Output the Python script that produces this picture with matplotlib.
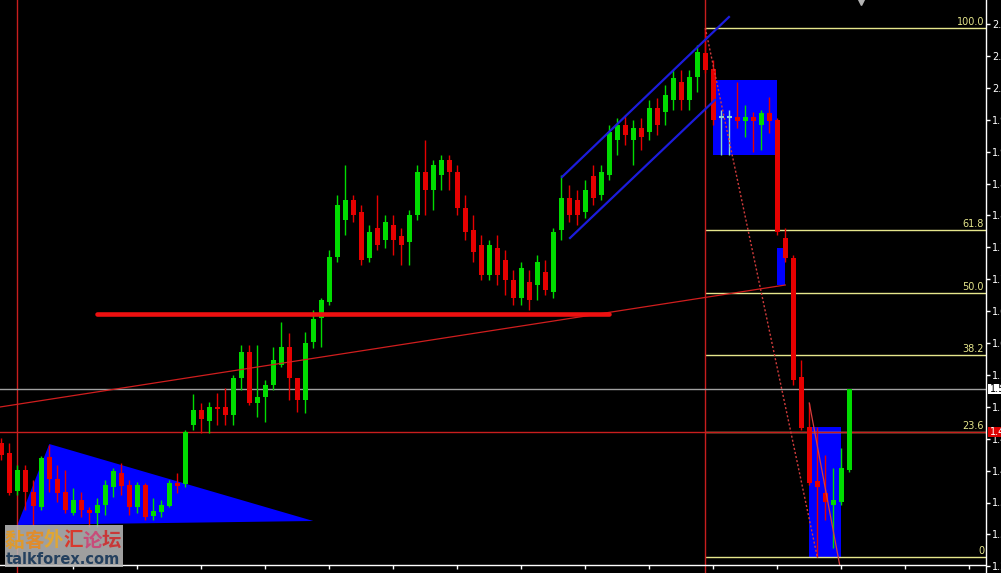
import matplotlib
matplotlib.use('Agg')
import matplotlib.pyplot as plt
from matplotlib.patches import Rectangle, Polygon

# ---------------- data (price units) ----------------
opens = [1.4496, 1.4336, 1.3728, 1.4064, 1.3712, 1.3472, 1.4272, 1.3920, 1.3712, 1.3376,
         1.3584, 1.3424, 1.3376, 1.3504, 1.3792, 1.4016, 1.3824, 1.3472, 1.3824, 1.3328,
         1.3392, 1.3488, 1.3856, 1.3840, 1.4784, 1.5024, 1.4848, 1.5072, 1.5072, 1.4944,
         1.5536, 1.5952, 1.5136, 1.5232, 1.5424, 1.5744, 1.6032, 1.5536, 1.5184, 1.6112,
         1.6496, 1.6752, 1.7472, 1.8064, 1.8384, 1.8192, 1.7456, 1.7936, 1.7744, 1.7984,
         1.7808, 1.7712, 1.8144, 1.8832, 1.8544, 1.8784, 1.9024, 1.8832, 1.8256, 1.7904,
         1.7664, 1.7184, 1.7616, 1.7424, 1.7104, 1.6816, 1.7072, 1.7024, 1.7232, 1.6912,
         1.7904, 1.8416, 1.8384, 1.8192, 1.8768, 1.8464, 1.8784, 1.9344, 1.9584, 1.9344,
         1.9536, 1.9472, 1.9856, 1.9792, 1.9984, 2.0272, 1.9984, 2.0352, 2.0736, 2.0480,
         1.9712, 1.9712, 1.9712, 1.9648, 1.9712, 1.9584, 1.9776, 1.9664, 1.7776, 1.7456,
         1.5552, 1.4752, 1.3888, 1.3696, 1.3504, 1.3552, 1.4064]
highs = [1.4576, 1.4496, 1.4144, 1.4144, 1.3904, 1.4288, 1.4464, 1.4144, 1.4064, 1.3776,
         1.3712, 1.3472, 1.3616, 1.3904, 1.4096, 1.4176, 1.3904, 1.3872, 1.3856, 1.3616,
         1.3584, 1.3904, 1.4016, 1.4704, 1.5280, 1.5136, 1.5152, 1.5296, 1.5376, 1.5584,
         1.6064, 1.6064, 1.6064, 1.5504, 1.6032, 1.6432, 1.6256, 1.5536, 1.6272, 1.6624,
         1.6816, 1.7584, 1.8464, 1.8944, 1.8464, 1.8304, 1.7984, 1.8464, 1.8144, 1.8144,
         1.7936, 1.8224, 1.8944, 1.9344, 1.9024, 1.9104, 1.9104, 1.8944, 1.8464, 1.8144,
         1.7824, 1.7744, 1.7824, 1.7584, 1.7264, 1.7392, 1.7264, 1.7504, 1.7424, 1.7936,
         1.8784, 1.8624, 1.8544, 1.8704, 1.8944, 1.8944, 1.9584, 1.9696, 1.9744, 1.9664,
         1.9696, 1.9984, 2.0016, 2.0224, 2.0464, 2.0464, 2.0464, 2.0864, 2.1136, 2.0624,
         1.9824, 1.9824, 2.0272, 1.9904, 1.9792, 1.9824, 2.0032, 1.9696, 1.7936, 1.7504,
         1.5824, 1.5136, 1.4752, 1.4304, 1.4096, 1.4416, 1.5360]
lows = [1.4224, 1.3664, 1.3664, 1.3424, 1.3184, 1.3424, 1.3712, 1.3552, 1.3376, 1.3344,
        1.3312, 1.3152, 1.3152, 1.3344, 1.3632, 1.3664, 1.3344, 1.3376, 1.3264, 1.3264,
        1.3312, 1.3472, 1.3696, 1.3792, 1.4704, 1.4656, 1.4656, 1.4784, 1.4784, 1.4784,
        1.5344, 1.5104, 1.4912, 1.4832, 1.5344, 1.5712, 1.5184, 1.4992, 1.4976, 1.6016,
        1.6032, 1.6704, 1.7392, 1.7824, 1.8032, 1.7344, 1.7392, 1.7584, 1.7616, 1.7504,
        1.7344, 1.7344, 1.8064, 1.8144, 1.8224, 1.8544, 1.8544, 1.8144, 1.7744, 1.7392,
        1.7104, 1.7104, 1.7024, 1.6864, 1.6704, 1.6704, 1.6624, 1.6784, 1.6864, 1.6816,
        1.7744, 1.8032, 1.7984, 1.8096, 1.8304, 1.8384, 1.8704, 1.9104, 1.9264, 1.8944,
        1.9184, 1.9344, 1.9424, 1.9584, 1.9824, 1.9824, 1.9824, 2.0112, 2.0416, 1.9584,
        1.9104, 1.9104, 1.9536, 1.9392, 1.9152, 1.9184, 1.9456, 1.7824, 1.7392, 1.5424,
        1.4704, 1.3824, 1.2672, 1.3264, 1.2816, 1.3504, 1.4032]
closes = [1.4304, 1.3696, 1.4064, 1.3712, 1.3488, 1.4256, 1.3920, 1.3696, 1.3424, 1.3584,
          1.3424, 1.3376, 1.3504, 1.3824, 1.4048, 1.3808, 1.3472, 1.3824, 1.3312, 1.3408,
          1.3504, 1.3856, 1.3808, 1.4672, 1.5024, 1.4880, 1.5072, 1.5040, 1.4944, 1.5536,
          1.5952, 1.5136, 1.5232, 1.5424, 1.5824, 1.6032, 1.5536, 1.5184, 1.6096, 1.6480,
          1.6784, 1.7472, 1.8304, 1.8384, 1.8144, 1.7424, 1.7872, 1.7664, 1.8032, 1.7744,
          1.7664, 1.8144, 1.8832, 1.8544, 1.8944, 1.9024, 1.8832, 1.8256, 1.7872, 1.7552,
          1.7184, 1.7664, 1.7184, 1.7104, 1.6816, 1.7296, 1.6784, 1.7392, 1.6944, 1.7872,
          1.8416, 1.8144, 1.8144, 1.8544, 1.8416, 1.8832, 1.9472, 1.9584, 1.9424, 1.9536,
          1.9392, 1.9856, 1.9584, 2.0064, 2.0336, 1.9984, 2.0352, 2.0752, 2.0464, 1.9664,
          1.9712, 1.9712, 1.9648, 1.9712, 1.9648, 1.9776, 1.9648, 1.7872, 1.7456, 1.5504,
          1.4736, 1.3856, 1.3792, 1.3552, 1.3584, 1.4096, 1.5360]

price_ticks = [2.1200, 2.0690, 2.0179, 1.9669, 1.9158, 1.8648, 1.8138, 1.7627, 1.7117,
               1.6606, 1.6096, 1.5586, 1.5075, 1.4565, 1.4054, 1.3544, 1.3034, 1.2523]
time_ticks = [9, 17, 25, 33, 41, 49, 57, 65, 73, 81, 89, 97, 105, 113, 121]

fib_high, fib_low = 2.1136, 1.2672
fib_start_bar, fib_end_bar = 88, 102
fib_ratios = [1.0, 0.618, 0.5, 0.382, 0.236, 0.0]
fib_labels = ['100.0', '61.8', '50.0', '38.2', '23.6', '0']

current_price = 1.5360
hline_price = 1.4672
vline_bars = [2, 88]
support_price, support_bars = 1.6560, (12, 76)
trend_pts = ([-0.1625, 98], [1.5072, 1.7024])
chan_upper = ([70.09, 90.96], [1.8752, 2.1312])
chan_lower = ([71.09, 89.2], [1.7776, 1.9984])
triangle = [(6, 1.4480), (2, 1.3184), (39, 1.3248)]
rects = [(89, 97, 1.9104, 2.0304), (97, 98, 1.7024, 1.7616), (101, 105, 1.2672, 1.4752)]
low_diag = ([101, 104.8], [1.5136, 1.2544])

# ---------------- styling ----------------
UP, DN, DOJI = '#00dc00', '#e60000', '#8ad8c8'
RED_LINE = '#c81e1e'
BLUE = '#0000ff'
FIB_C = '#e6e68c'

W, H = 1001, 573
fig = plt.figure(figsize=(W / 100, H / 100), dpi=100, facecolor='black')
ax = fig.add_axes([0, 0, 986 / W, 1])
ax.set_facecolor('black')
ax.set_xlim(-0.1625, 123.09)
ax.set_ylim(1.2416, 2.1584)

for s in ['left', 'top', 'bottom']:
    ax.spines[s].set_visible(False)
ax.spines['right'].set_color('white')
ax.spines['right'].set_linewidth(1)
ax.yaxis.tick_right()
ax.set_yticks(price_ticks)
ax.set_yticklabels([f'{v:.4f}' for v in price_ticks])
ax.tick_params(axis='y', colors='white', labelcolor='white', length=3, width=1,
               pad=1.5, labelsize=7, direction='out')
ax.set_xticks([])

# bottom time axis
ax.axhline(1.2544, color='white', lw=1, zorder=6)
ax.vlines(time_ticks, 1.2480, 1.2544, color='white', lw=1, zorder=6)

# background objects
ax.add_patch(Polygon(triangle, closed=True, fc=BLUE, ec='none', zorder=1))
for x0, x1, y0, y1 in rects:
    ax.add_patch(Rectangle((x0, y0), x1 - x0, y1 - y0, fc=BLUE, ec='none', zorder=1))

# fib levels
for r, lab in zip(fib_ratios, fib_labels):
    lvl = fib_low + r * (fib_high - fib_low)
    ax.hlines(lvl, fib_start_bar, 123.09, color=FIB_C, lw=1, zorder=2)
    ax.text(122.84, lvl + 0.0012, lab, color=FIB_C, fontsize=7, ha='right', va='bottom', zorder=2)
ax.plot([fib_start_bar, fib_end_bar], [fib_high, fib_low], color='#d23c3c', lw=1,
        ls=(0, (1.5, 1.5)), zorder=4)

# candles
bw = 0.64
for i, (o, h, l, c) in enumerate(zip(opens, highs, lows, closes)):
    if abs(c - o) < 1e-9:
        col = DOJI
    else:
        col = UP if c > o else DN
    ax.vlines(i, l, h, color=col, lw=1, zorder=3)
    if abs(c - o) < 0.0016:
        ax.hlines((o + c) / 2, i - bw / 2, i + bw / 2, color=col, lw=1.5, zorder=3)
    else:
        ax.add_patch(Rectangle((i - bw / 2, min(o, c)), bw, abs(c - o), fc=col, ec='none', zorder=3))

# lines
for vb in vline_bars:
    ax.axvline(vb, color=RED_LINE, lw=1, zorder=2)
ax.axhline(current_price, color='#a0a0a0', lw=1, zorder=2)
ax.axhline(hline_price, color=RED_LINE, lw=1, zorder=2.5)
ax.plot(*trend_pts, color='#d01e1e', lw=0.9, zorder=4)
ax.plot(support_bars, [support_price, support_price], color='#ee1010', lw=3.3,
        solid_capstyle='round', zorder=4)
ax.plot(*chan_upper, color='#1c1cdc', lw=1.6, zorder=4)
ax.plot(*chan_lower, color='#1c1cdc', lw=1.6, zorder=4)
ax.plot(*low_diag, color='#d83c3c', lw=0.9, zorder=4)

# shift marker at top
ax.plot([107.5], [2.1552], marker='v', color='#b4b4b4', ms=5, clip_on=False, zorder=6)

# price boxes on right scale
def fy(px):
    return 1 - px / H

fig.patches.append(Rectangle((988 / W, fy(394)), 14 / W, 10 / H, transform=fig.transFigure,
                             fc='white', ec='none', zorder=10))
fig.text(990 / W, fy(389), f'{current_price:.4f}', color='black', fontsize=7,
         va='center', ha='left', zorder=11)
fig.patches.append(Rectangle((988 / W, fy(437)), 14 / W, 10 / H, transform=fig.transFigure,
                             fc='#dc0000', ec='none', zorder=10))
fig.text(990 / W, fy(432), f'{hline_price:.4f}', color='white', fontsize=7,
         va='center', ha='left', zorder=11)

# watermark
fig.patches.append(Rectangle((5 / W, fy(567)), 118 / W, 42 / H, transform=fig.transFigure,
                             fc='#b6b6b6', ec='none', alpha=0.88, zorder=20))
wm_chars = '黏客外汇论坛'
wm_cols = ['#e09a2a', '#e08c2c', '#e0a634', '#d83a2e', '#c84c7a', '#c83838']
for k, (ch, cc) in enumerate(zip(wm_chars, wm_cols)):
    fig.text((5 + 19.4 * k) / W, fy(541), ch, color=cc, fontsize=14, fontweight='heavy',
             family=['Noto Sans CJK SC', 'DejaVu Sans'], va='center', ha='left', zorder=21)
fig.text(6 / W, fy(559), 'talkforex.com', color='#24405e', fontsize=10.5, fontweight='bold',
         va='center', ha='left', zorder=21)

fig.savefig('out.png', dpi=100, facecolor='black')
